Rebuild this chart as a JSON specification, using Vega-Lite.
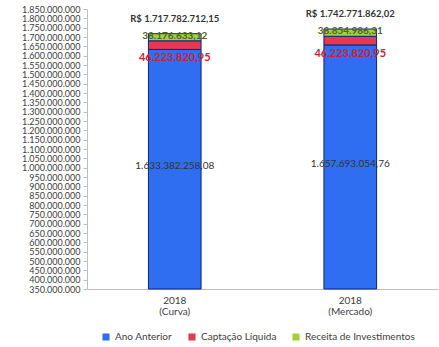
{
  "$schema": "https://vega.github.io/schema/vega-lite/v6.json",
  "width": 351,
  "height": 280,
  "autosize": "none",
  "padding": {"left": 87, "top": 9, "right": 1, "bottom": 58},
  "background": "white",
  "config": {
    "font": "Lato",
    "view": {"stroke": null},
    "axisY": {"format": ",d", "labelFontSize": 9, "labelColor": "#404040", "grid": false, "domainColor": "#bfbfbf", "tickColor": "#bfbfbf", "tickSize": 4, "labelPadding": 3, "labelOverlap": false, "labelBound": false, "title": null},
    "locale": {"number": {"decimal": ",", "thousands": ".", "grouping": [3], "currency": ["R$ ", ""]}}
  },
  "data": {
    "values": [
      {"cat": "2018|(Curva)", "serie": "Ano Anterior", "valor": 1633382258.08},
      {"cat": "2018|(Curva)", "serie": "Captação Líquida", "valor": 46223820.95},
      {"cat": "2018|(Curva)", "serie": "Receita de Investimentos", "valor": 38176633.12},
      {"cat": "2018|(Mercado)", "serie": "Ano Anterior", "valor": 1657693054.76},
      {"cat": "2018|(Mercado)", "serie": "Captação Líquida", "valor": 46223820.95},
      {"cat": "2018|(Mercado)", "serie": "Receita de Investimentos", "valor": 38854986.31}
    ]
  },
  "encoding": {
    "x": {
      "field": "cat", "type": "nominal", "sort": null,
      "scale": {"paddingInner": 0.7, "paddingOuter": 0.35},
      "axis": {"title": null, "labelAngle": 0, "labelExpr": "split(datum.value, '|')", "labelFontSize": 10, "labelColor": "#404040", "domainColor": "#bfbfbf", "tickColor": "#bfbfbf", "ticks": false, "labelPadding": 6, "labelLineHeight": 11}
    }
  },
  "layer": [
    {
      "mark": {"type": "bar", "stroke": "#0a2580", "strokeWidth": 1},
      "encoding": {
        "y": {
          "field": "valor", "type": "quantitative", "stack": "zero",
          "scale": {"domain": [350000000, 1850000000], "clamp": true, "zero": false, "nice": false},
          "axis": {"title": null, "labelOverlap": false, "tickCount": 31, "values": [350000000,400000000,450000000,500000000,550000000,600000000,650000000,700000000,750000000,800000000,850000000,900000000,950000000,1000000000,1050000000,1100000000,1150000000,1200000000,1250000000,1300000000,1350000000,1400000000,1450000000,1500000000,1550000000,1600000000,1650000000,1700000000,1750000000,1800000000,1850000000]}
        },
        "order": {"field": "serie", "type": "nominal", "sort": "ascending"},
        "color": {
          "field": "serie", "type": "nominal",
          "scale": {"domain": ["Ano Anterior", "Captação Líquida", "Receita de Investimentos"], "range": ["#2f6ef0", "#e8384f", "#a6cf3c"]},
          "legend": {"title": null, "orient": "none", "direction": "horizontal", "legendX": 14, "legendY": 323, "symbolType": "square", "symbolSize": 50, "labelFontSize": 10, "labelColor": "#404040", "columnPadding": 14, "symbolStrokeWidth": 0}
        }
      }
    },
    {
      "transform": [
        {"filter": "datum.serie === 'Ano Anterior'"},
        {"calculate": "(datum.valor + 350000000) / 2", "as": "meio"}
      ],
      "mark": {"type": "text", "fontSize": 10, "color": "#333333", "dy": -3},
      "encoding": {
        "y": {"field": "meio", "type": "quantitative", "axis": {"title": null, "labelOverlap": false, "tickCount": 31}},
        "text": {"field": "valor", "type": "quantitative", "format": ",.2f"}
      }
    },
    {
      "transform": [{"filter": "datum.serie === 'Ano Anterior'"}],
      "mark": {"type": "text", "fontSize": 11, "fontWeight": "bold", "color": "#d02030", "baseline": "top", "dy": 3},
      "encoding": {
        "y": {"field": "valor", "type": "quantitative", "axis": {"title": null, "labelOverlap": false, "tickCount": 31}},
        "text": {"value": "46.223.820,95"}
      }
    },
    {
      "transform": [
        {"joinaggregate": [{"op": "sum", "field": "valor", "as": "total"}], "groupby": ["cat"]},
        {"filter": "datum.serie === 'Receita de Investimentos'"}
      ],
      "layer": [
        {
          "mark": {"type": "text", "fontSize": 10, "fontWeight": "bold", "color": "#4f6228", "baseline": "middle", "dy": 2},
          "encoding": {
            "y": {"field": "total", "type": "quantitative", "axis": {"title": null, "labelOverlap": false, "tickCount": 31}},
            "text": {"field": "valor", "type": "quantitative", "format": ",.2f"}
          }
        },
        {
          "mark": {"type": "text", "fontSize": 9.5, "fontWeight": "bold", "color": "#333333", "baseline": "middle", "dy": -15},
          "encoding": {
            "y": {"field": "total", "type": "quantitative", "axis": {"title": null, "labelOverlap": false, "tickCount": 31}},
            "text": {"field": "total", "type": "quantitative", "format": "$,.2f"}
          }
        }
      ]
    }
  ]
}
